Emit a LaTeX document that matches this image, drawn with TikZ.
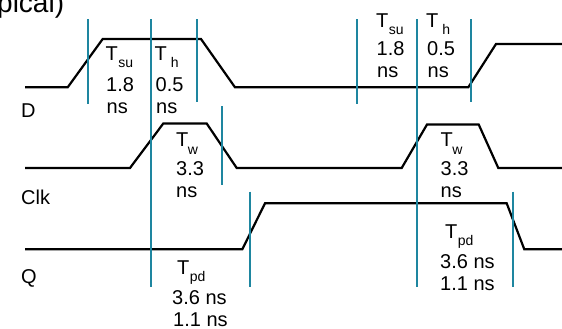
\documentclass[tikz,border=0pt]{standalone}
\usepackage{fontspec}
\setmainfont{Liberation Sans}
\definecolor{tealline}{RGB}{30,134,160}
\newcommand\mysub[2][0.5pt]{\kern#1\raisebox{-7.3pt}{\fontsize{14}{14}\selectfont #2}}
\tikzset{
  wave/.style={line width=2.2pt, black, line join=miter},
  mark line/.style={line width=2.3pt, tealline},
  lbl/.style={anchor=base west, inner sep=0pt, font=\fontsize{20}{22}\selectfont},
  sig/.style={anchor=base west, inner sep=0pt, font=\fontsize{20}{22}\selectfont},
}
\begin{document}
\begin{tikzpicture}[x=1pt,y=-1pt]
\useasboundingbox (0,0) rectangle (562,329);
\begin{scope}
\clip (0,0) rectangle (562,329);
\node[anchor=base west, inner sep=0pt, font=\fontsize{28}{30}\selectfont] (title) at (-3,12.5) {pical)};
\end{scope}

% waveforms
\draw[wave] (25,87.3) -- (67.7,87.3) -- (102.7,39) -- (201,39) -- (235,87.3)
  -- (468.3,87.3) -- (496,44) -- (562,44);
\draw[wave] (25,168) -- (130,168) -- (163.3,123.5) -- (206.7,123.5) -- (236.7,168)
  -- (401.7,168) -- (427,124.5) -- (478.7,124.5) -- (498.3,168) -- (562,168);
\draw[wave] (25,249.3) -- (242.3,249.3) -- (265,203.3) -- (506.7,203.3)
  -- (524.3,249.3) -- (562,249.3);

% marker lines
\draw[mark line] (87.7,19.3) -- (87.7,104.3);
\draw[mark line] (151.3,19.3) -- (151.3,286.7);
\draw[mark line] (196.7,19.3) -- (196.7,101.7);
\draw[mark line] (357.3,19.3) -- (357.3,104.3);
\draw[mark line] (416.7,19.3) -- (416.7,286.7);
\draw[mark line] (471,19.3) -- (471,101.7);
\draw[mark line] (221.7,106) -- (221.7,185);
\draw[mark line] (249.7,191.7) -- (249.7,286.7);
\draw[mark line] (513.3,191.7) -- (513.3,286.7);

% signal names
\node[sig] (nD) at (21,117.3) {D};
\node[sig] (nClk) at (21,204) {Clk};
\node[sig] (nQ) at (21,283) {Q};

% left Tsu / Th
\node[lbl] (su1a) at (105.5,60) {T\mysub{su}};
\node[lbl] (su1b) at (106,91.7) {1.8};
\node[lbl] (su1c) at (106.5,113.3) {ns};
\node[lbl] (h1a) at (154.5,60) {T\mysub[4pt]{h}};
\node[lbl] (h1b) at (155.5,91.7) {0.5};
\node[lbl] (h1c) at (156,113.3) {ns};

% right Tsu / Th
\node[lbl] (su2a) at (376,27.5) {T\mysub{su}};
\node[lbl] (su2b) at (376.5,55.7) {1.8};
\node[lbl] (su2c) at (377,77.7) {ns};
\node[lbl] (h2a) at (426,27.5) {T\mysub[4pt]{h}};
\node[lbl] (h2b) at (427,55.7) {0.5};
\node[lbl] (h2c) at (427.5,77.7) {ns};

% Tw
\node[lbl] (w1a) at (176,146.7) {T\mysub[-0.5pt]{w}};
\node[lbl] (w1b) at (176,175) {3.3};
\node[lbl] (w1c) at (176,197.3) {ns};
\node[lbl] (w2a) at (440.5,146.7) {T\mysub[-0.5pt]{w}};
\node[lbl] (w2b) at (440.5,175) {3.3};
\node[lbl] (w2c) at (440.5,197.3) {ns};

% Tpd
\node[lbl] (pd1a) at (177,274) {T\mysub{pd}};
\node[lbl] (pd1b) at (172,304) {3.6 ns};
\node[lbl] (pd1c) at (173,326) {1.1 ns};
\node[lbl] (pd2a) at (445,238.5) {T\mysub{pd}};
\node[lbl] (pd2b) at (440,268.3) {3.6 ns};
\node[lbl] (pd2c) at (440,290.5) {1.1 ns};
\end{tikzpicture}
\end{document}
